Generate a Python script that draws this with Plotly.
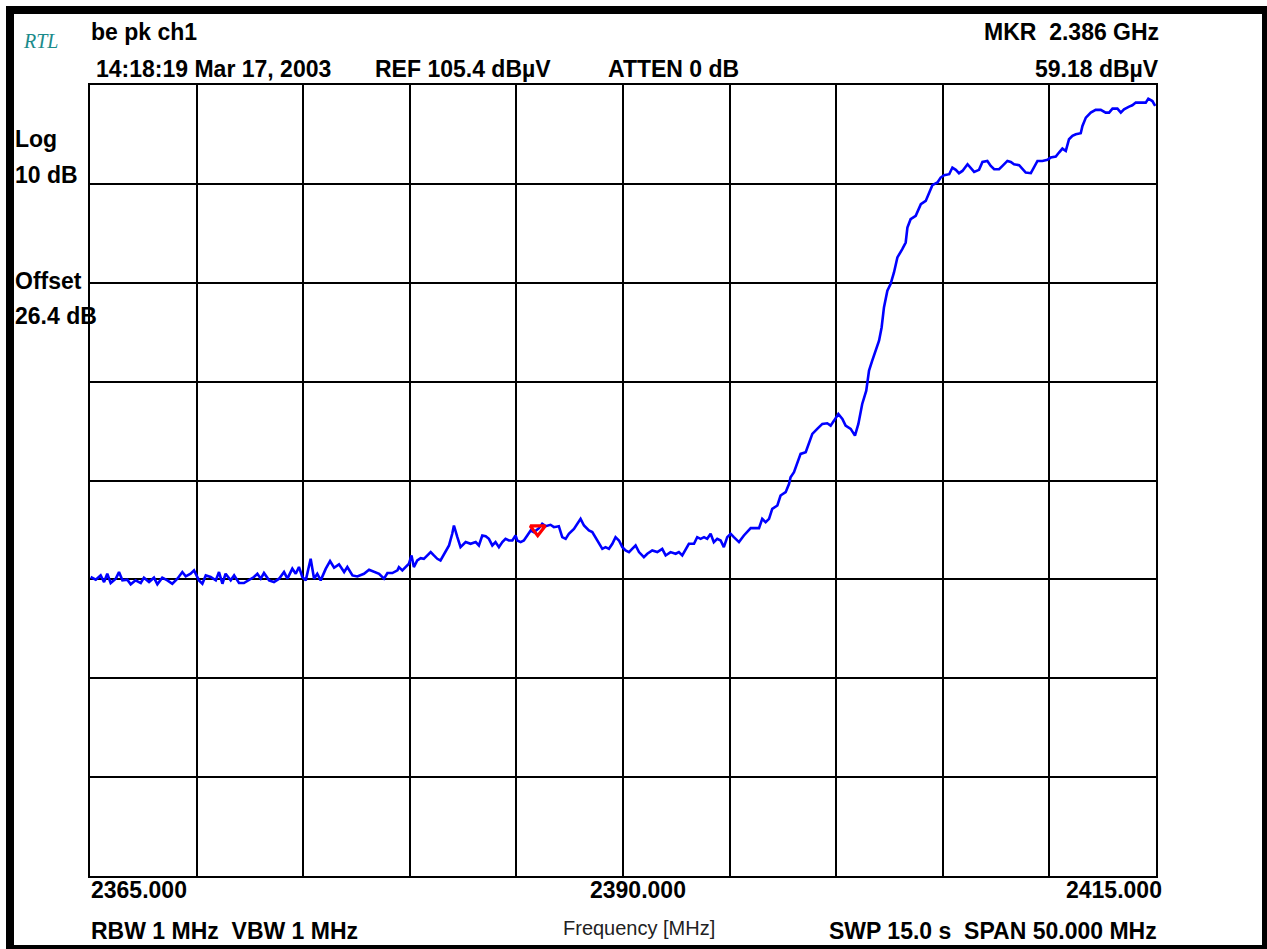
import numpy as np
import plotly.graph_objects as go

# ---------------- data ----------------
# trace segment 1: flat noise floor
seg1_freq = [2365.03, 2365.27, 2365.50, 2365.66, 2365.81, 2365.97, 2366.21, 2366.36, 2366.52, 2366.75,
             2366.91, 2367.14, 2367.38, 2367.53, 2367.77, 2368.00, 2368.16, 2368.39, 2368.63, 2368.86,
             2369.10, 2369.33, 2369.49, 2369.72, 2369.88, 2370.11, 2370.27, 2370.43, 2370.66, 2370.90,
             2371.05, 2371.21, 2371.36, 2371.60, 2371.76, 2371.99, 2372.22, 2372.46, 2372.69, 2372.85,
             2373.01, 2373.16, 2373.40, 2373.63, 2373.87, 2374.10, 2374.26, 2374.49, 2374.65, 2374.80,
             2374.96, 2375.12, 2375.35, 2375.51, 2375.66, 2375.82, 2376.06, 2376.26, 2376.45, 2376.68,
             2376.92, 2377.07, 2377.31, 2377.54, 2377.85, 2378.09, 2378.32, 2378.56, 2378.79, 2378.95,
             2379.18, 2379.42]
seg1_level = [55.64, 55.37, 55.80, 55.13, 55.97, 55.03, 55.47, 56.14, 55.30, 55.37,
              54.90, 55.30, 55.03, 55.57, 55.13, 55.57, 54.90, 55.57, 55.30, 54.96,
              55.47, 56.14, 55.70, 55.97, 56.31, 55.30, 54.96, 55.80, 55.64, 55.30,
              56.14, 54.96, 55.97, 55.30, 55.80, 55.03, 55.03, 55.30, 55.64, 55.97,
              55.47, 56.04, 55.30, 55.13, 55.47, 56.14, 55.47, 56.48, 55.97, 56.65,
              55.64, 55.30, 57.49, 55.47, 55.97, 55.30, 56.48, 57.25, 56.58, 56.92,
              56.14, 56.65, 55.80, 55.70, 55.97, 56.38, 56.14, 55.97, 55.47, 56.04,
              56.04, 56.31]

# trace segment 2: hump around the marker
seg2_freq = [2379.49, 2379.65, 2379.80, 2379.96, 2380.08, 2380.19, 2380.35, 2380.51, 2380.66, 2380.82,
             2380.98, 2381.13, 2381.29, 2381.44, 2381.60, 2381.84, 2381.99, 2382.07, 2382.23, 2382.38,
             2382.62, 2382.85, 2383.09, 2383.24, 2383.40, 2383.56, 2383.71, 2383.87, 2384.02, 2384.18,
             2384.34, 2384.49, 2384.65, 2384.81, 2384.96, 2385.04, 2385.20, 2385.35, 2385.51, 2385.67,
             2385.82, 2386.06, 2386.21, 2386.37, 2386.60, 2386.76, 2386.99, 2387.15, 2387.31, 2387.46,
             2387.70, 2387.85, 2388.01, 2388.17, 2388.40, 2388.56, 2388.71, 2388.87, 2389.03, 2389.18,
             2389.34, 2389.50, 2389.65, 2389.81, 2389.97, 2390.12, 2390.28, 2390.43, 2390.59, 2390.75,
             2390.98, 2391.14, 2391.37, 2391.61, 2391.84, 2392.00, 2392.23, 2392.47, 2392.62, 2392.78,
             2392.94, 2393.09, 2393.33, 2393.48, 2393.64, 2393.80, 2393.95, 2394.11, 2394.26, 2394.42,
             2394.58, 2394.73, 2394.89, 2395.05, 2395.20, 2395.44]
seg2_level = [56.64, 56.30, 56.64, 56.98, 57.82, 56.64, 57.31, 57.55, 57.48, 57.82,
              58.16, 57.82, 57.48, 57.31, 57.89, 58.83, 60.01, 60.85, 59.67, 58.66,
              59.17, 59.00, 59.17, 58.83, 59.84, 59.77, 59.50, 58.83, 59.17, 58.66,
              59.17, 59.50, 59.33, 59.33, 59.84, 59.33, 59.17, 59.33, 59.84, 60.34,
              60.18, 60.58, 61.02, 60.78, 60.92, 60.68, 60.78, 59.67, 59.50, 60.01,
              60.51, 61.02, 61.52, 60.85, 60.34, 60.18, 59.67, 59.00, 58.49, 58.66,
              58.49, 59.00, 59.67, 59.33, 58.66, 58.32, 58.16, 58.49, 58.83, 58.16,
              57.65, 57.99, 58.32, 58.16, 58.49, 57.82, 58.16, 57.99, 58.16, 57.82,
              58.49, 59.00, 59.00, 59.67, 59.50, 59.67, 59.50, 60.01, 59.17, 59.50,
              59.33, 58.66, 59.67, 60.01, 59.67, 59.17]

# trace segment 3: steep rise
seg3_freq = [2395.67, 2395.99, 2396.38, 2396.53, 2396.69, 2396.85, 2397.00, 2397.24, 2397.39, 2397.63,
             2397.79, 2397.86, 2398.02, 2398.18, 2398.33, 2398.57, 2398.72, 2398.88, 2399.11, 2399.35,
             2399.58, 2399.74, 2399.90, 2400.10, 2400.29, 2400.44, 2400.68, 2400.88, 2401.04, 2401.22,
             2401.41, 2401.54, 2401.69, 2401.85, 2402.01, 2402.13, 2402.24, 2402.40, 2402.55, 2402.71,
             2402.87, 2403.10, 2403.26, 2403.34, 2403.49, 2403.73]
seg3_level = [59.84, 60.58, 60.58, 61.52, 61.19, 61.52, 62.53, 62.87, 63.88, 64.22,
              65.06, 65.73, 66.24, 67.25, 68.09, 68.26, 69.10, 70.11, 70.62, 71.12,
              71.19, 70.95, 71.46, 72.13, 71.63, 70.95, 70.62, 69.94, 71.12, 73.14,
              74.49, 76.51, 77.52, 78.53, 79.54, 80.88, 82.90, 84.59, 85.26, 86.44,
              87.96, 88.80, 89.47, 90.99, 91.83, 92.17]

# trace segment 4: in-band top
seg4_freq = [2403.97, 2404.20, 2404.36, 2404.51, 2404.75, 2404.90, 2405.06, 2405.30, 2405.45, 2405.61,
             2405.76, 2405.92, 2406.16, 2406.31, 2406.47, 2406.70, 2406.86, 2407.09, 2407.25, 2407.41,
             2407.64, 2407.80, 2408.03, 2408.19, 2408.34, 2408.58, 2408.73, 2408.89, 2409.13, 2409.28,
             2409.44, 2409.67, 2409.91, 2410.06, 2410.30, 2410.45, 2410.61, 2410.77, 2410.92, 2411.08,
             2411.24, 2411.47, 2411.55, 2411.71, 2411.94, 2412.17, 2412.41, 2412.64, 2412.80, 2412.96,
             2413.19, 2413.35, 2413.50, 2413.74, 2413.89, 2414.05, 2414.28, 2414.52, 2414.64, 2414.83,
             2414.96]
seg4_level = [93.35, 93.68, 94.53, 95.27, 95.54, 96.04, 96.28, 96.38, 97.05, 96.82,
              96.48, 96.71, 97.39, 97.05, 96.61, 96.82, 97.62, 97.72, 97.22, 96.88,
              96.88, 97.22, 97.72, 97.62, 97.39, 97.29, 96.95, 96.55, 96.48, 97.05,
              97.72, 97.72, 97.83, 98.06, 98.16, 98.57, 98.97, 98.73, 99.91, 100.25,
              100.42, 100.52, 101.26, 102.10, 102.61, 102.88, 102.88, 102.61, 102.61, 103.01,
              103.01, 102.61, 102.94, 103.21, 103.35, 103.62, 103.62, 103.62, 104.02, 103.78,
              103.28]

START_MHZ = 2365.0
STOP_MHZ = 2415.0
REF_LEVEL = 105.4
DB_PER_DIV = 10
N_DIV_Y = 8
N_DIV_X = 10

MARKER_FREQ = 2386.0
MARKER_LEVEL_TEXT = "59.18 dBµV"

freq_ticks = ["2365.000", "2390.000", "2415.000"]

# ---------------- assemble ----------------
freq = np.array(seg1_freq + seg2_freq + seg3_freq + seg4_freq)
level = np.array(seg1_level + seg2_level + seg3_level + seg4_level)
assert len(freq) == len(level)

W_FIG, H_FIG = 1267, 949
L, R, T, B = 90, 1156, 85, 876   # plot area edges in pixels
PW, PH = R - L, B - T


def fx(px):
    return (px - L) / PW


def fy(py):
    return (B - py) / PH


fig = go.Figure()

fig.add_trace(go.Scatter(
    x=freq, y=level, mode="lines",
    line=dict(color="#0000FF", width=2.6),
    hoverinfo="skip", showlegend=False,
))

marker_y = float(np.interp(MARKER_FREQ, freq, level))
fig.add_trace(go.Scatter(
    x=[MARKER_FREQ], y=[marker_y], mode="markers",
    marker=dict(symbol="triangle-down-open", size=13, color="#FF0000",
                line=dict(color="#FF0000", width=3.2)),
    hoverinfo="skip", showlegend=False,
))

bottom = REF_LEVEL - DB_PER_DIV * N_DIV_Y

fig.update_xaxes(
    range=[START_MHZ, STOP_MHZ], tick0=START_MHZ, dtick=(STOP_MHZ - START_MHZ) / N_DIV_X,
    showgrid=True, gridcolor="black", gridwidth=2.4,
    showline=True, linecolor="black", linewidth=2.4, mirror=True,
    showticklabels=False, ticks="", zeroline=False, fixedrange=True,
)
fig.update_yaxes(
    range=[bottom, REF_LEVEL], tick0=bottom, dtick=DB_PER_DIV,
    showgrid=True, gridcolor="black", gridwidth=2.4,
    showline=True, linecolor="black", linewidth=2.4, mirror=True,
    showticklabels=False, ticks="", zeroline=False, fixedrange=True,
)

FONT = "Liberation Sans, Arial, Helvetica, sans-serif"
FS = 23
annotations = []


def txt(text, x, y, xanchor="left", size=FS, family=FONT, color="black", weight="bold", **kw):
    annotations.append(dict(
        text=text, x=fx(x), y=fy(y), xref="paper", yref="paper",
        xanchor=xanchor, yanchor="middle", showarrow=False, borderpad=0,
        font=dict(family=family, size=size, color=color, weight=weight, **kw),
    ))


NB = "\u00a0"
txt("RTL", 22, 41, size=20, family="Liberation Serif, Times New Roman, serif",
    color="#1b8b8b", style="italic", weight="normal")
txt("be pk ch1", 90, 32)
txt("14:18:19 Mar 17, 2003", 95, 69)
txt("REF 105.4 dBµV", 374, 69)
txt("ATTEN 0 dB", 607, 69)
txt("MKR" + NB * 2 + "2.386 GHz", 1160, 32, xanchor="right")
txt(MARKER_LEVEL_TEXT, 1160, 69, xanchor="right")

txt("Log", 14, 139)
txt("10 dB", 14, 175)
txt("Offset", 14, 281)
txt("26.4 dB", 14, 316)

txt(freq_ticks[0], 90, 890)
txt(freq_ticks[1], 638, 890, xanchor="center")
txt(freq_ticks[2], 1163, 890, xanchor="right")

txt("RBW 1 MHz" + NB * 2 + "VBW 1 MHz", 90, 931)
txt("Frequency [MHz]", 639, 928, xanchor="center", size=20, color="#222222", weight="normal")
txt("SWP 15.0 s" + NB * 2 + "SPAN 50.000 MHz", 1158, 931, xanchor="right")

# black screen frame
frame = [(6, 6, 14, 949), (6, 6, 1267, 14), (1262, 6, 1267, 949), (6, 945, 1267, 949)]
shapes = []
for x0, y0, x1, y1 in frame:
    shapes.append(dict(type="rect", xref="paper", yref="paper",
                       x0=fx(x0), x1=fx(x1), y0=fy(y1), y1=fy(y0),
                       fillcolor="black", line=dict(width=0), layer="above"))

fig.update_layout(
    width=W_FIG, height=H_FIG,
    margin=dict(l=L, r=W_FIG - R, t=T, b=H_FIG - B, pad=0),
    paper_bgcolor="white", plot_bgcolor="white",
    annotations=annotations, shapes=shapes,
    showlegend=False,
)

fig.write_html(
    "out.html",
    config={"displayModeBar": False},
    post_script="document.body.style.margin='0';document.body.style.padding='0';"
                "document.body.style.overflow='hidden';",
)
